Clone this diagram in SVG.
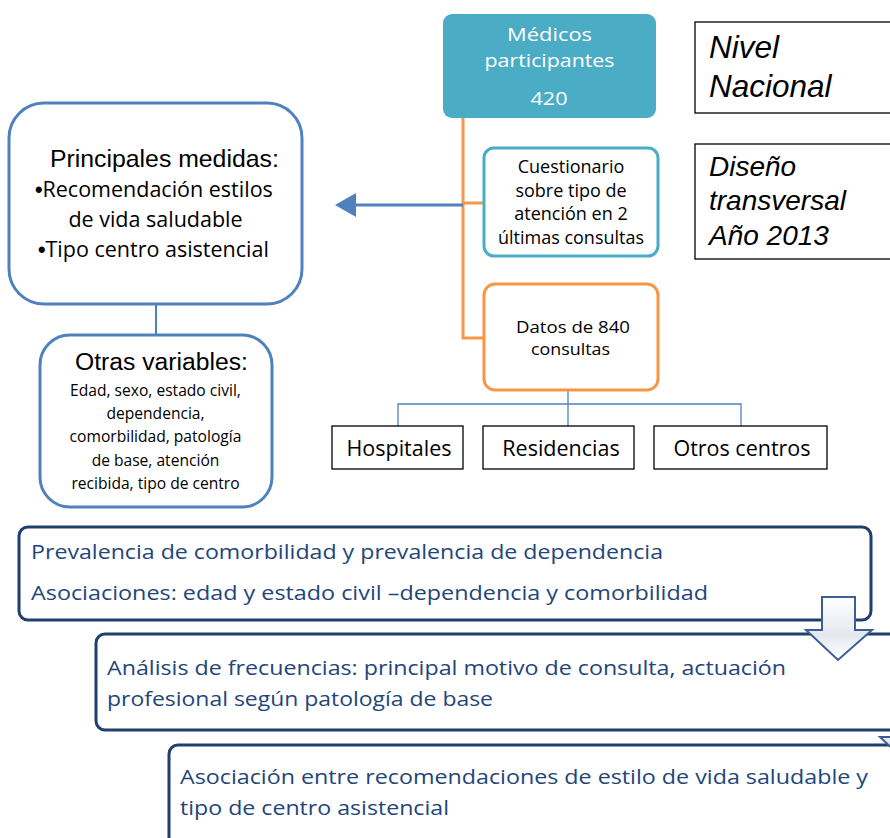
<svg xmlns="http://www.w3.org/2000/svg" width="890" height="838" viewBox="0 0 890 838">
<style>
.cal{font-family:"Open Sans","Liberation Sans",sans-serif;}
.ari{font-family:"Liberation Sans",Arial,sans-serif;}
.bul{font-family:"Liberation Sans",Arial,sans-serif;font-weight:bold;}
.blk{fill:#000;}
.dk{fill:#22457A;}
.bluebox{fill:#fff;stroke:#4F81BD;stroke-width:3;}
.plain{fill:#fff;stroke:#000;stroke-width:1.3;}
.big{fill:#fff;stroke:#1F3F6E;stroke-width:3;}
</style>
<defs>
<linearGradient id="ag" x1="0" y1="0" x2="0" y2="1">
<stop offset="0" stop-color="#fff"/>
<stop offset="0.6" stop-color="#e4e8ee"/>
<stop offset="1" stop-color="#fff"/>
</linearGradient>
</defs>
<rect width="890" height="838" fill="#fff"/>

<g id="connectors">
<path d="M463,118 V338 H484 M463,203 H484" fill="none" stroke="#F79646" stroke-width="3"/>
<line x1="463" y1="205" x2="356" y2="205" stroke="#4F81BD" stroke-width="3"/>
<path d="M335,205 L356,193 L356,217 z" fill="#4F81BD"/>
<line x1="156" y1="304" x2="156" y2="336" stroke="#4F81BD" stroke-width="2"/>
<path d="M568,391 V426 M398,426 V404 H741 V426" fill="none" stroke="#4F81BD" stroke-width="1.3"/>
</g>

<g id="medicos">
<rect x="443" y="14" width="213" height="104" rx="9" fill="#4BACC6"/>
<text class="cal" font-size="19" fill="#fff"><tspan x="507" y="41" textLength="85" lengthAdjust="spacingAndGlyphs">Médicos</tspan><tspan x="484.5" y="67" textLength="130" lengthAdjust="spacingAndGlyphs">participantes</tspan><tspan x="530.5" y="105" textLength="37" lengthAdjust="spacingAndGlyphs">420</tspan></text>
</g>

<g id="nivel">
<rect x="695" y="22" width="200" height="91" class="plain"/>
<text class="ari" font-size="31.5" font-style="italic" fill="#000"><tspan x="709" y="58">Nivel</tspan><tspan x="709" y="97">Nacional</tspan></text>
</g>

<g id="diseno">
<rect x="695" y="144" width="200" height="115" class="plain"/>
<text class="ari" font-size="28" font-style="italic" fill="#000"><tspan x="709" y="176">Diseño</tspan><tspan x="709" y="210">transversal</tspan><tspan x="709" y="245">Año 2013</tspan></text>
</g>

<g id="cuestionario">
<rect x="484" y="148" width="174" height="108" rx="10" fill="#fff" stroke="#4BACC6" stroke-width="3"/>
<text class="cal blk" font-size="18" text-anchor="middle"><tspan x="571" y="173">Cuestionario</tspan><tspan x="571" y="197">sobre tipo de</tspan><tspan x="571" y="220">atención en 2</tspan><tspan x="571" y="244">últimas consultas</tspan></text>
</g>

<g id="datos">
<rect x="484" y="284" width="174" height="106" rx="11" fill="#fff" stroke="#F79646" stroke-width="3"/>
<text class="cal blk" font-size="16.5"><tspan x="516" y="333" textLength="114" lengthAdjust="spacingAndGlyphs">Datos de 840</tspan><tspan x="531" y="355" textLength="79" lengthAdjust="spacingAndGlyphs">consultas</tspan></text>
</g>

<g id="hospitales">
<rect x="332" y="426" width="131" height="43" class="plain"/>
<text class="cal blk" font-size="21.5" text-anchor="middle" x="399" y="456">Hospitales</text>
</g>
<g id="residencias">
<rect x="483" y="426" width="151" height="43" class="plain"/>
<text class="cal blk" font-size="21.5" text-anchor="middle" x="561" y="456">Residencias</text>
</g>
<g id="otros">
<rect x="654" y="426" width="173" height="43" class="plain"/>
<text class="cal blk" font-size="21.5" text-anchor="middle" x="742" y="456">Otros centros</text>
</g>

<g id="principales">
<rect x="9" y="103" width="293" height="201" rx="35" class="bluebox"/>
<text class="ari blk" font-size="24.8" x="50" y="167">Principales medidas:</text>
<text class="cal blk" font-size="21.5"><tspan x="35" y="197" class="bul">•</tspan><tspan>Recomendación estilos</tspan><tspan x="155.5" y="227" text-anchor="middle">de vida saludable</tspan><tspan x="38" y="257" class="bul">•</tspan><tspan>Tipo centro asistencial</tspan></text>
</g>

<g id="otras">
<rect x="40" y="335" width="232" height="172" rx="30" class="bluebox"/>
<text class="ari blk" font-size="24.7" x="75" y="370">Otras variables:</text>
<text class="cal blk" font-size="15.6" text-anchor="middle"><tspan x="155.5" y="396">Edad, sexo, estado civil,</tspan><tspan x="155.5" y="419">dependencia,</tspan><tspan x="155.5" y="442">comorbilidad, patología</tspan><tspan x="155.5" y="466">de base, atención</tspan><tspan x="155.5" y="489">recibida, tipo de centro</tspan></text>
</g>

<g id="block1">
<rect x="19" y="527" width="852" height="93" rx="9" class="big"/>
<text class="cal dk" font-size="20.5"><tspan x="31" y="559" textLength="632" lengthAdjust="spacingAndGlyphs">Prevalencia de comorbilidad y prevalencia de dependencia</tspan><tspan x="31" y="600" textLength="677" lengthAdjust="spacingAndGlyphs">Asociaciones: edad y estado civil –dependencia y comorbilidad</tspan></text>
</g>

<g id="block2">
<rect x="96" y="634" width="810" height="96" rx="9" class="big"/>
<text class="cal dk" font-size="20.5"><tspan x="107" y="675" textLength="679" lengthAdjust="spacingAndGlyphs">Análisis de frecuencias: principal motivo de consulta, actuación</tspan><tspan x="107" y="706" textLength="386" lengthAdjust="spacingAndGlyphs">profesional según patología de base</tspan></text>
</g>

<g id="block3">
<rect x="169" y="745" width="740" height="110" rx="9" class="big"/>
<text class="cal dk" font-size="20.5"><tspan x="180" y="784" textLength="688" lengthAdjust="spacingAndGlyphs">Asociación entre recomendaciones de estilo de vida saludable y</tspan><tspan x="180" y="815" textLength="269" lengthAdjust="spacingAndGlyphs">tipo de centro asistencial</tspan></text>
</g>

<g id="arrow1">
<path d="M822,597 H855 V630 H872 L838,660 L806,630 H822 Z" fill="url(#ag)" stroke="#3B5F92" stroke-width="2"/>
</g>
<g id="arrow2">
<path d="M896,704 H929 V737 H946 L912,767 L880,737 H896 Z" fill="url(#ag)" stroke="#3B5F92" stroke-width="2"/>
</g>
</svg>
